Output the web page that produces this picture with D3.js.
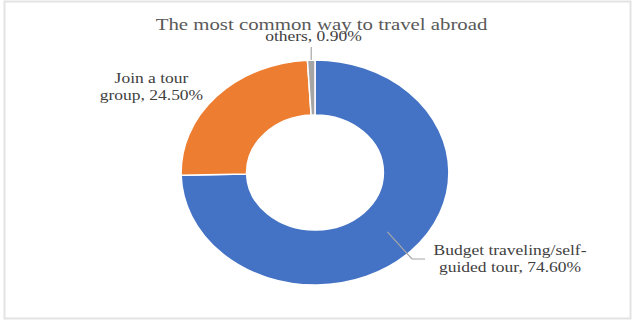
<!DOCTYPE html>
<html>
<head>
<meta charset="utf-8">
<script src="https://cdn.jsdelivr.net/npm/d3@7/dist/d3.min.js"></script>
<style>
  html, body { margin: 0; padding: 0; background: #fff; }
  svg { display: block; }
  text { font-family: "Liberation Serif", "Times New Roman", serif; }
</style>
</head>
<body>
<svg id="chart" width="632" height="320"></svg>
<script>
// ---- data ----
const title = "The most common way to travel abroad";
const categories = ["Budget traveling/self-guided tour", "Join a tour group", "others"];
const values = [74.6, 24.5, 0.9];
const labelLines = [
  ["Budget traveling/self-", "guided tour, 74.60%"],
  ["Join a tour", "group, 24.50%"],
  ["others, 0.90%"]
];
const colors = ["#4472C4", "#ED7D31", "#A5A5A5"];

// ---- layout ----
const W = 632, H = 320;
const sx = 1.19;             // the original picture is stretched horizontally
const LW = W / sx;           // logical width
const cx = 264.7, cy = 172.5;
const rOuter = 112.5, rInner = 57.5;

const svg = d3.select("#chart");
svg.append("rect").attr("x", 0).attr("y", 0).attr("width", W).attr("height", H).attr("fill", "#fff");
// frame
svg.append("rect").attr("x", 4.5).attr("y", 1.5).attr("width", 626).attr("height", 317)
  .attr("fill", "none").attr("stroke", "#e3e3e3").attr("stroke-width", 2);

const g = svg.append("g").attr("transform", `scale(${sx},1)`);

// title
g.append("text").attr("x", 270.2).attr("y", 30).attr("text-anchor", "middle")
  .attr("font-size", 17.5).attr("fill", "#595959").text(title);

const pie = d3.pie().sort(null).value(d => d)(values);
const arc = d3.arc().innerRadius(rInner).outerRadius(rOuter);
const mid = d3.arc().innerRadius((rInner + rOuter) / 2).outerRadius((rInner + rOuter) / 2);

const pg = g.append("g").attr("transform", `translate(${cx},${cy})`);
pg.selectAll("path.slice").data(pie).join("path")
  .attr("class", "slice")
  .attr("d", arc)
  .attr("fill", (d, i) => colors[i])
  .attr("stroke", "#fff")
  .attr("stroke-width", 1.5)
  .attr("vector-effect", "non-scaling-stroke");

// labels
const fs = 14.7, lh = 17.5;
const labelPos = [
  { x: 428.6, y: 255, anchor: "middle" },
  { x: 127.3, y: 83, anchor: "middle" },
  { x: 263.4, y: 41.5, anchor: "middle" }
];
labelLines.forEach((lines, i) => {
  const t = g.append("text").attr("text-anchor", labelPos[i].anchor)
    .attr("font-size", fs).attr("fill", "#404040");
  lines.forEach((s, k) => {
    t.append("tspan").attr("x", labelPos[i].x).attr("y", labelPos[i].y + k * lh).text(s);
  });
});

// leader lines
const lineColor = "#a6a6a6";
// budget: from slice centroid to label
{
  const c = mid.centroid(pie[0]);
  const p0 = [cx + c[0], cy + c[1]];
  const labelLeft = 435 / sx;
  const yL = 259;
  const p2 = [labelLeft - 10 / sx, yL];
  const p1 = [p2[0] - 13 / sx, yL];
  g.append("path").attr("d", d3.line()([p0, p1, p2]))
    .attr("fill", "none").attr("stroke", lineColor).attr("stroke-width", 1.2)
    .attr("vector-effect", "non-scaling-stroke");
}
// others: from slice outer edge up to label
{
  const a = (pie[2].startAngle + pie[2].endAngle) / 2;
  const x0 = cx + Math.sin(a) * rOuter, y0 = cy - Math.cos(a) * rOuter;
  g.append("path").attr("d", d3.line()([[x0, y0], [x0, 47]]))
    .attr("fill", "none").attr("stroke", lineColor).attr("stroke-width", 1.2)
    .attr("vector-effect", "non-scaling-stroke");
}
</script>
</body>
</html>
